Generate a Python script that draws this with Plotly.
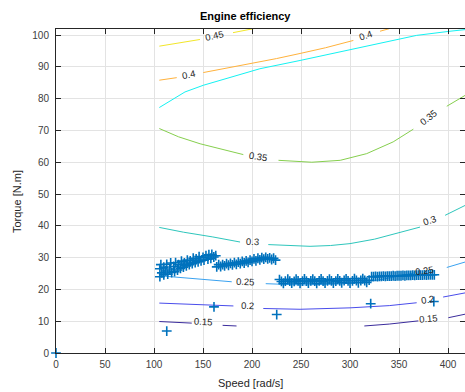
import plotly.graph_objects as go

# ---- efficiency contour lines (speed [rad/s], torque [N.m]); None = label gap ----
c045_x = [105.4, 130.0, 146.9, None, 180.6, 198.0, 203.0]
c045_y = [96.5, 97.7, 98.6, None, 100.75, 101.8, 102.1]

c040_x = [105.4, 123.2, None, 150.3, 175.0, 198.0, 225.0, 249.0, 275.0, 303.4, None, 330.6, 340.0]
c040_y = [85.8, 86.6, None, 88.2, 89.6, 91.0, 92.6, 94.2, 96.0, 98.3, None, 101.2, 102.0]

limit_x = [105.4, 131.6, 150.3, 181.0, 208.0, 249.0, 300.0, 340.0, 368.0, 402.0, 417.3]
limit_y = [77.2, 82.1, 84.2, 87.0, 89.4, 92.0, 95.4, 98.1, 99.9, 101.2, 101.7]

c035_x = [105.4, 125.0, 147.0, 170.0, 191.1, None, 227.0, 245.0, 261.0, 290.0, 317.0, 344.0, 364.6, None, 398.7, 417.3]
c035_y = [70.6, 68.0, 65.8, 63.9, 62.4, None, 60.6, 60.2, 60.0, 60.6, 62.7, 66.4, 70.4, None, 77.6, 81.0]

c030_x = [105.4, 130.0, 160.0, 187.8, None, 216.6, 240.0, 259.2, 280.0, 300.0, 325.0, 351.0, 371.4, None, 397.0, 417.3]
c030_y = [39.5, 38.0, 36.5, 34.9, None, 34.1, 33.7, 33.55, 33.8, 34.4, 35.8, 37.9, 39.6, None, 43.3, 46.4]

c025_x = [105.4, 130.0, 160.0, 179.3, None, 214.0, 250.0, 290.0, 330.0, 366.0, None, 398.7, 417.3]
c025_y = [24.3, 23.6, 22.9, 22.4, None, 21.8, 21.4, 21.7, 23.0, 25.2, None, 26.9, 28.6]

c020_x = [105.4, 140.0, 181.0, None, 211.5, 249.0, 300.0, 340.0, 368.0, None, 395.0, 417.3]
c020_y = [15.7, 15.3, 14.8, None, 14.0, 13.75, 14.2, 14.9, 15.8, None, 17.6, 18.9]

c015_x = [105.4, 120.0, 138.5, None, 170.0, 184.2, None, 314.6, 340.0, 369.7, None, 400.3, 417.3]
c015_y = [9.9, 9.7, 9.4, None, 8.7, 8.5, None, 8.5, 9.1, 10.1, None, 11.1, 12.2]

# inline level labels: text, speed, torque, rotation
label_text = ["0.45", "0.4", "0.4", "0.35", "0.35", "0.3", "0.3",
              "0.25", "0.25", "0.2", "0.2", "0.15", "0.15"]
label_x = [162.0, 135.0, 315.3, 206.4, 379.6, 200.3, 380.6,
           192.9, 376.2, 195.2, 379.2, 150.3, 379.9]
label_y = [99.9, 87.7, 100.0, 61.9, 74.1, 35.2, 41.7,
           22.5, 26.1, 14.8, 16.9, 9.9, 11.0]
label_angle = [-12, -11, -19, 9, -38, 3, -20, 2, -8, 2, -10, 3, -5]

# ---- operating points ----
single_spd = [0.0, 113.0, 161.2, 225.2, 321.1, 385.5]
single_trq = [0.0, 6.9, 14.5, 12.1, 15.5, 16.2]

ramp_spd = [106, 106, 107, 108, 110, 110, 112, 113, 114, 116, 117, 118, 120, 121,
            122, 124, 125, 127, 128, 130, 131, 133, 134, 136, 137, 139, 140, 142,
            143, 145, 146, 148, 150, 151, 153, 155, 156, 158, 159, 161, 163]
ramp_trq = [24.0, 26.5, 27.8, 25.2, 24.6, 27.0, 25.8, 27.9, 24.8, 26.4, 28.3, 25.3,
            27.2, 25.6, 28.4, 26.1, 27.8, 26.6, 28.9, 27.0, 28.3, 27.4, 29.2, 27.8,
            29.0, 28.1, 29.8, 28.4, 29.6, 28.7, 30.3, 29.0, 30.1, 29.2, 30.6, 29.5,
            30.9, 29.8, 31.0, 30.2, 30.6]

mid_spd = [164, 166, 168, 170, 172, 174, 176, 178, 180, 182, 184, 186, 188, 190,
           192, 194, 196, 198, 200, 202, 204, 206, 208, 210, 212, 214, 216, 218,
           220, 222, 224]
mid_trq = [27.1, 27.8, 27.2, 27.8, 27.4, 28.1, 27.6, 28.2, 27.7, 28.4, 27.9, 28.6,
           28.1, 28.8, 28.3, 29.0, 28.5, 29.2, 28.8, 29.6, 29.0, 29.8, 29.3, 30.0,
           29.5, 30.1, 29.6, 29.9, 29.4, 29.8, 29.2]

cruise_spd = [228, 236.5, 245, 253.5, 262, 270.5, 279, 287.5, 296, 304.5, 313,
              232, 240.5, 249, 257.5, 266, 274.5, 283, 291.5, 300, 308.5, 317,
              230, 234, 238.5, 243, 247, 251.5, 255.5, 260, 264, 268.5, 272.5,
              277, 281, 285.5, 289.5, 294, 298, 302.5, 306.5, 311, 315, 319.5]
cruise_trq = [23.1, 23.2, 23.2, 23.3, 23.2, 23.3, 23.2, 23.3, 23.3, 23.4, 23.4,
              21.9, 22.0, 21.9, 22.0, 21.9, 22.0, 22.0, 22.1, 22.0, 22.1, 22.2,
              22.5, 22.6, 22.6, 22.5, 22.7, 22.6, 22.6, 22.7, 22.6, 22.7, 22.6,
              22.7, 22.7, 22.6, 22.7, 22.8, 22.7, 22.7, 22.8, 22.8, 22.8, 22.9]

high_spd = [322, 324, 326, 328, 330, 332, 334, 336, 338, 340, 342, 344, 346, 348,
            350, 352, 354, 356, 358, 360, 362, 364, 366, 368, 370, 372, 374, 376,
            378, 380, 382, 384, 386]
high_trq = [24.0, 24.0, 24.1, 24.0, 24.1, 24.1, 24.2, 24.1, 24.2, 24.2, 24.2, 24.3,
            24.2, 24.3, 24.3, 24.3, 24.4, 24.3, 24.4, 24.4, 24.4, 24.5, 24.4, 24.5,
            24.5, 24.5, 24.5, 24.6, 24.5, 24.6, 24.6, 24.6, 24.6]

fig = go.Figure()

lines = [
    (c015_x, c015_y, "#3B2C9C"),
    (c020_x, c020_y, "#4A4DEB"),
    (c025_x, c025_y, "#3AA2F0"),
    (c030_x, c030_y, "#2EC6BC"),
    (c035_x, c035_y, "#86CF4E"),
    (limit_x, limit_y, "#14F2F2"),
    (c040_x, c040_y, "#FFB23C"),
    (c045_x, c045_y, "#F2E62A"),
]
for xs, ys, col in lines:
    fig.add_trace(go.Scatter(x=xs, y=ys, mode="lines", connectgaps=False,
                             line=dict(color=col, width=1), hoverinfo="skip"))

for xs, ys in [(ramp_spd, ramp_trq), (mid_spd, mid_trq), (cruise_spd, cruise_trq),
               (high_spd, high_trq), (single_spd, single_trq)]:
    fig.add_trace(go.Scatter(
        x=xs, y=ys, mode="markers", cliponaxis=False,
        marker=dict(symbol="cross-thin", size=7, color="#0072BD",
                    line=dict(color="#0072BD", width=1.6))))

for t, x, y, a in zip(label_text, label_x, label_y, label_angle):
    fig.add_annotation(x=x, y=y, text=t, textangle=a, showarrow=False,
                       font=dict(size=9.5, color="#262626"))

font_family = "Liberation Sans, Arial, sans-serif"
fig.add_annotation(xref="paper", yref="paper", x=0.4645, y=1.0386,
                   xanchor="center", yanchor="middle",
                   text="<b>Engine efficiency</b>", showarrow=False,
                   font=dict(size=11, color="#000000"))
fig.add_annotation(xref="paper", yref="paper", x=0.4756, y=-0.094,
                   xanchor="center", yanchor="middle",
                   text="Speed [rad/s]", showarrow=False,
                   font=dict(size=11, color="#262626"))
fig.add_annotation(xref="paper", yref="paper", x=-0.0954, y=0.469,
                   xanchor="center", yanchor="middle",
                   text="Torque [N.m]", textangle=-90, showarrow=False,
                   font=dict(size=11, color="#262626"))

axis_common = dict(showline=True, linecolor="#262626", linewidth=1, mirror="ticks",
                   ticks="inside", ticklen=5, tickcolor="#262626", tickwidth=1,
                   showgrid=True, gridcolor="#e3e3e3", gridwidth=1, zeroline=False,
                   tickfont=dict(size=10, color="#404040"))
fig.update_xaxes(range=[0, 417.3], tickvals=[0, 50, 100, 150, 200, 250, 300, 350, 400],
                 ticklabelstandoff=2, **axis_common)
fig.update_yaxes(range=[0, 101.9], tickvals=list(range(0, 101, 10)),
                 ticklabelstandoff=4, **axis_common)

fig.update_layout(width=465, height=392, margin=dict(l=56, r=0, t=29, b=39),
                  plot_bgcolor="white", paper_bgcolor="white", showlegend=False,
                  font=dict(family=font_family, size=10, color="#262626"))

fig.write_html("out.html")
